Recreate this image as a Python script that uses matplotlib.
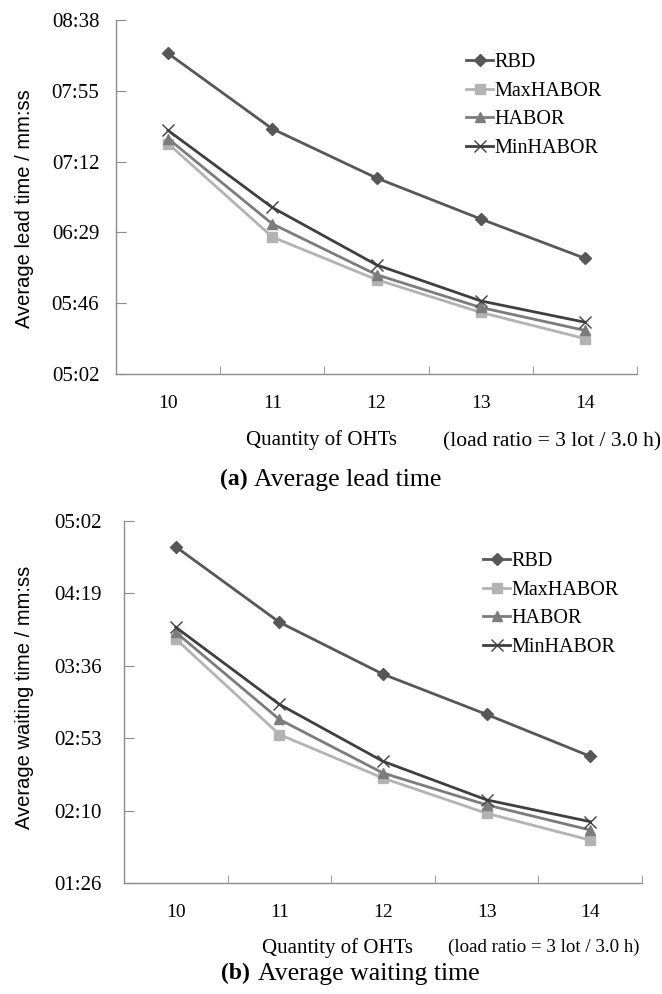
import matplotlib
matplotlib.use("Agg")
import matplotlib.pyplot as plt
from matplotlib.ticker import FixedLocator, FuncFormatter

plt.rcParams["font.family"] = ["Liberation Serif", "DejaVu Serif"]

# Quantity of OHTs
oht = [10, 11, 12, 13, 14]
series = ["RBD", "MaxHABOR", "HABOR", "MinHABOR"]

# values in seconds
lead_rbd = [498, 452, 422, 397, 373]
lead_max = [443, 386, 360, 340, 324]
lead_habor = [446, 394, 363, 343, 329]
lead_min = [451, 404, 369, 347, 334]

wait_rbd = [287, 242, 211, 187, 162]
wait_max = [232, 175, 149, 128, 112]
wait_habor = [236, 184, 152, 133, 118]
wait_min = [239, 193, 159, 136, 123]

lead_ticks = [302.4, 345.6, 388.8, 432.0, 475.2, 518.4]
wait_ticks = [86.4, 129.6, 172.8, 216.0, 259.2, 302.4]

styles = {
    "RBD": dict(color="#575757", marker="D", ms=6.5, lw=2),
    "MaxHABOR": dict(color="#b3b3b3", marker="s", ms=7, lw=2),
    "HABOR": dict(color="#7c7c7c", marker="^", ms=7.5, lw=2),
    "MinHABOR": dict(color="#3f3f3f", marker="x", ms=9, lw=2, mew=1.0),
}


def mmss(v, pos=None):
    s = int(round(v))
    return "%02d:%02d" % (s // 60, s % 60)


W, H = 662, 994
fig = plt.figure(figsize=(W / 100, H / 100), dpi=100)


def px(x, y):
    return x / W, 1 - y / H


def panel(rect, data, ticks, ylabel, ylab_y, leg_xy, xlab_xy, ypad):
    l, t, r, b = rect
    ax = fig.add_axes([l / W, 1 - b / H, (r - l) / W, (b - t) / H])
    for name, vals in zip(series, data):
        st = styles[name]
        ax.plot(oht, vals, label=name, **st)
    ax.set_xlim(9.5, 14.5)
    ax.set_ylim(ticks[0], ticks[-1])
    ax.yaxis.set_major_locator(FixedLocator(ticks))
    ax.yaxis.set_major_formatter(FuncFormatter(mmss))
    ax.set_xticks(oht)
    ax.set_xticks([10.5, 11.5, 12.5, 13.5, 14.5], minor=True)
    ax.tick_params(axis="x", which="major", length=0, pad=15, labelsize=14)
    ax.tick_params(axis="x", which="minor", direction="in", length=6, color="#8c8c8c")
    ax.tick_params(axis="y", direction="in", length=7, color="#8c8c8c", pad=ypad, labelsize=15)
    for s in ["top", "right"]:
        ax.spines[s].set_visible(False)
    for s in ["left", "bottom"]:
        ax.spines[s].set_color("#8c8c8c")
        ax.spines[s].set_linewidth(1.0)
    ax.patch.set_alpha(0)
    fig.text(*px(25, ylab_y), ylabel, rotation=90, ha="center", va="center",
             fontsize=14.5, family=["Liberation Sans", "DejaVu Sans"])
    ax.legend(loc="upper left", bbox_to_anchor=px(*leg_xy), bbox_transform=fig.transFigure,
              frameon=False, fontsize=14.5, handlelength=1.35, handletextpad=0.05,
              labelspacing=0.47, borderaxespad=0, borderpad=0)
    fig.text(*px(*xlab_xy), "Quantity of OHTs", ha="center", va="center", fontsize=15)
    return ax


panel((116, 20, 637, 374),
      [lead_rbd, lead_max, lead_habor, lead_min], lead_ticks,
      "Average lead time / mm:ss", 209, (466, 53), (322, 440), 12)
fig.text(*px(552, 442), "(load ratio = 3 lot / 3.0 h)", ha="center", va="center", fontsize=15.5)
fig.text(*px(220, 479), "(a)", ha="left", va="center", fontsize=17, fontweight="bold")
fig.text(*px(254, 480), "Average lead time", ha="left", va="center", fontsize=18.5)

panel((124, 521, 642, 883),
      [wait_rbd, wait_max, wait_habor, wait_min], wait_ticks,
      "Average waiting time / mm:ss", 697, (483, 552), (338, 948), 16)
fig.text(*px(544, 947), "(load ratio = 3 lot / 3.0 h)", ha="center", va="center", fontsize=13.6)
fig.text(*px(221, 973), "(b)", ha="left", va="center", fontsize=17, fontweight="bold")
fig.text(*px(258, 974), "Average waiting time", ha="left", va="center", fontsize=18.5)

fig.savefig("out.png", dpi=100)
